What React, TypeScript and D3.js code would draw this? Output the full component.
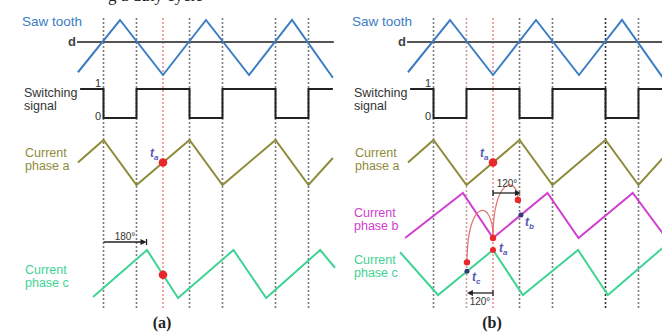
import * as d3 from "d3";

// time axis is in electrical degrees, 0 = saw tooth peak
const SAW_T = [-176, 0, 180, 360, 540, 720, 891];
const SAW_V = [0.05, 1, 0, 1, 0, 1, -0.05];
const D_LEVEL = 0.6;

const SW_T = [-167, -69, 69, 291, 429, 651, 789, 891];
const SW_V = [1, 0, 1, 0, 1, 0, 1, 1];

const PA_T = [-176, -69, 69, 291, 429, 651, 789, 891];
const PA_V = [0.5, 1, 0, 1, 0, 1, 0, 0.6];

const PB_T = [-188, 54, 180, 408, 538, 765, 891];
const PB_V = [0, 1, 0, 1, 0, 1, 0.1];

const PC_A_T = [-113, 113, 243, 475, 612, 838, 900];
const PC_A_V = [0.02, 1, 0, 1, 0, 1, 0.63];

const PC_B_T = [-209, -50, 180, 305, 536, 661, 891];
const PC_B_V = [0.95, 0, 1, 0, 1, 0, 1.05];

const GUIDE_T = [-69, 69, 291, 429, 651, 789];
const RED_T = 180;
const TC_T = 71;
const TB_T = 297;
const ARROW_A = [-69, 111]; // 180°
const ARROW_B_TOP = [180, 297]; // 120°
const ARROW_B_BOT = [180, 71]; // 120°

const FONT = "'Liberation Sans', Arial, sans-serif";
const C = {
  saw: "#3b7dc4",
  d: "#555",
  sw: "#222",
  pa: "#8e8c3a",
  pb: "#d040d0",
  pc: "#3fd394",
  red: "#e8282c",
  dot: "#333a78",
  tl: "#5558b8",
  grid: "#7a7a7a",
  gridRed: "#f08080",
};

const pts = (t: number[], v: number[]) => t.map((d, i) => [d, v[i]] as [number, number]);

const Label = ({ x, y, lines, color, size = 12.5 }: any) => (
  <text x={x} y={y} fill={color} fontFamily={FONT} fontSize={size}>
    {lines.map((l: string, i: number) => (
      <tspan key={i} x={x} dy={i === 0 ? 0 : 13}>{l}</tspan>
    ))}
  </text>
);

const TLabel = ({ x, y, sub }: any) => (
  <text x={x} y={y} fill={C.tl} fontFamily={FONT} fontSize={12} fontStyle="italic" fontWeight="bold">
    t<tspan fontSize={8} dy={3}>{sub}</tspan>
  </text>
);

const Panel = ({ x0, b }: { x0: number; b: boolean }) => {
  const x = d3.scaleLinear().domain([-180, 900]).range([x0 - 43, x0 + 215]);
  const ySaw = d3.scaleLinear().domain([0, 1]).range([75, 20]);
  const ySw = d3.scaleLinear().domain([0, 1]).range([118, 89]);
  const yPa = d3.scaleLinear().domain([0, 1]).range([185, 140]);
  const yPb = d3.scaleLinear().domain([0, 1]).range([238, 193]);
  const yPc = b
    ? d3.scaleLinear().domain([0, 1]).range([295, 250])
    : d3.scaleLinear().domain([0, 1]).range([298, 250]);

  const line = (ys: d3.ScaleLinear<number, number>, curve: any = d3.curveLinear) =>
    d3.line<[number, number]>().x((d) => x(d[0])).y((d) => ys(d[1])).curve(curve);

  const interp = (T: number[], V: number[], t: number) => {
    const i = d3.bisectRight(T, t) - 1;
    const f = (t - T[i]) / (T[i + 1] - T[i]);
    return V[i] + f * (V[i + 1] - V[i]);
  };

  const pcT = b ? PC_B_T : PC_A_T;
  const pcV = b ? PC_B_V : PC_A_V;
  const xRight = b ? 662 : x(895);
  const lx = x0 - 98;

  const guideColor = (t: number) => (b && t === 69 ? "#c9a0a0" : b && t === 651 ? "#333" : C.grid);

  const arrow = (t0: number, t1: number, y: number, label: string, ly: number) => {
    const a = x(t0), e = x(t1);
    const dir = Math.sign(e - a);
    return (
      <g>
        <line x1={a} x2={e - dir * 5} y1={y} y2={y} stroke="#222" strokeWidth={1.3} />
        <path d={`M${e},${y} L${e - dir * 6},${y - 3} L${e - dir * 6},${y + 3} Z`} fill="#222" />
        <line x1={b ? a : e} x2={b ? a : e} y1={y - 3} y2={y + 3} stroke="#222" strokeWidth={1.3} />
        <text x={(a + e) / 2} y={ly} textAnchor="middle" fontFamily={FONT} fontSize={10} fill="#333">{label}</text>
      </g>
    );
  };

  const yc = (t: number) => yPc(interp(pcT, pcV, t));
  const yb = (t: number) => yPb(interp(PB_T, PB_V, t));

  return (
    <g>
      {GUIDE_T.map((t) => (
        <line key={t} x1={x(t)} x2={x(t)} y1={18} y2={308} stroke={guideColor(t)} strokeWidth={1.6} strokeDasharray="2,2" />
      ))}
      <line x1={x(RED_T)} x2={x(RED_T)} y1={18} y2={308} stroke={C.gridRed} strokeWidth={1.4} strokeDasharray="2,2" />

      <Label x={lx} y={26} lines={["Saw tooth"]} color={C.saw} size={13.5} />
      <text x={x0 - 52} y={46} fontFamily={FONT} fontSize={13} fontWeight="bold" fill="#444">d</text>
      <line x1={x0 - 43} x2={xRight} y1={ySaw(D_LEVEL)} y2={ySaw(D_LEVEL)} stroke={C.d} strokeWidth={2} />
      <path d={line(ySaw)(pts(SAW_T, SAW_V)) || ""} fill="none" stroke={C.saw} strokeWidth={2} />

      <Label x={lx + 2} y={97} lines={["Switching", "signal"]} color="#333" />
      <text x={x0 - 25} y={87} fontFamily={FONT} fontSize={11} fill="#333">1</text>
      <text x={x0 - 25} y={120} fontFamily={FONT} fontSize={11} fill="#333">0</text>
      <path d={line(ySw, d3.curveStepAfter)(pts(SW_T, SW_V)) || ""} fill="none" stroke={C.sw} strokeWidth={2} />

      <Label x={lx + 3} y={157} lines={["Current", "phase a"]} color={C.pa} />
      <path d={line(yPa)(pts(PA_T, PA_V)) || ""} fill="none" stroke={C.pa} strokeWidth={2} />
      <circle cx={x(RED_T)} cy={yPa(interp(PA_T, PA_V, RED_T))} r={4.3} fill={C.red} />
      <TLabel x={x(RED_T) - 13} y={157} sub="a" />

      {b && (
        <g>
          <Label x={lx + 2} y={217} lines={["Current", "phase b"]} color={C.pb} />
          <path d={line(yPb)(pts(PB_T, PB_V)) || ""} fill="none" stroke={C.pb} strokeWidth={2} />
        </g>
      )}

      <Label x={lx + (b ? 2 : 3)} y={b ? 264 : 274} lines={["Current", "phase c"]} color={C.pc} />
      <path d={line(yPc)(pts(pcT, pcV)) || ""} fill="none" stroke={C.pc} strokeWidth={2} />

      {!b && (
        <g>
          <circle cx={x(RED_T)} cy={yc(RED_T)} r={4.3} fill={C.red} />
          {arrow(ARROW_A[0], ARROW_A[1], 242, "180°", 240)}
        </g>
      )}

      {b && (
        <g>
          <path
            d={`M${x(TC_T)},${yc(TC_T) - 9} C${x(TC_T)},${198} ${x(RED_T)},${198} ${x(RED_T)},${yb(RED_T) - 1}`}
            fill="none" stroke="#e07070" strokeWidth={1.2}
          />
          <path
            d={`M${x(RED_T)},${yb(RED_T) - 1} C${x(RED_T)},${176} ${x(TB_T) - 3},${176} ${x(TB_T) - 3},${yb(TB_T) - 15}`}
            fill="none" stroke="#e07070" strokeWidth={1.2}
          />
          <circle cx={x(TC_T)} cy={yc(TC_T) - 9} r={3.2} fill={C.red} />
          <circle cx={x(TC_T)} cy={yc(TC_T)} r={2.5} fill={C.dot} />
          <circle cx={x(TB_T) - 3} cy={yb(TB_T) - 15} r={3.2} fill={C.red} />
          <circle cx={x(TB_T)} cy={yb(TB_T)} r={2.5} fill={C.dot} />
          <circle cx={x(RED_T)} cy={yb(RED_T)} r={3.2} fill={C.red} />
          <circle cx={x(RED_T)} cy={yc(RED_T)} r={3} fill={C.red} />
          <TLabel x={x(RED_T) + 6} y={252} sub="a" />
          <TLabel x={x(TB_T) + 4} y={226} sub="b" />
          <TLabel x={x(TC_T) + 5} y={281} sub="c" />
          {arrow(ARROW_B_TOP[0], ARROW_B_TOP[1], 193, "120°", 187)}
          {arrow(ARROW_B_BOT[0], ARROW_B_BOT[1], 293, "120°", 305)}
        </g>
      )}

      <text x={x0 + 42} y={328} textAnchor="middle" fontFamily="'Liberation Serif', 'Times New Roman', serif" fontSize={16} fontWeight="bold" fill="#222">
        {b ? "(b)" : "(a)"}
      </text>
    </g>
  );
};

export default function App() {
  return (
    <svg width={662} height={332} style={{ position: "absolute", left: 0, top: 0, background: "#fff" }}>
      <rect width={662} height={332} fill="#fff" />
      {/* caption line above the figure, cut off by the crop */}
      <text x={108} y={1} fontFamily="'Liberation Serif', serif" fontSize={17} fill="#222">g a duty cycle</text>
      <Panel x0={120} b={false} />
      <Panel x0={450} b={true} />
    </svg>
  );
}
